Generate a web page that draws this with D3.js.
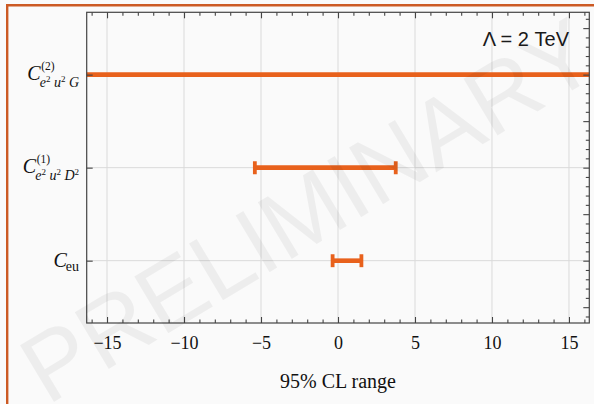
<!DOCTYPE html>
<html>
<head>
<meta charset="utf-8">
<script src="https://cdn.jsdelivr.net/npm/d3@7"></script>
<style>
  html, body { margin: 0; padding: 0; background: #fafafa; }
  svg { display: block; }
</style>
</head>
<body>
<svg id="chart"></svg>
<script>
// coefficients, bottom to top (position 1, 2, 3)
const categories = ["C_eu", "C_e2u2D2^(1)", "C_e2u2G^(2)"];
const lowerBounds = [-0.35, -5.4, -25];
const upperBounds = [1.52, 3.75, 25];
const xTickValues = [-15, -10, -5, 0, 5, 10, 15];

// how each label is typeset: superscript + subscript pieces (i = italic, s = small raised, n = upright)
const labelSup = ["", "(1)", "(2)"];
const labelSub = [
  [["eu", "n"]],
  [["e", "i"], ["2", "s"], ["u", "i"], ["2", "s"], ["D", "i"], ["2", "s"]],
  [["e", "i"], ["2", "s"], ["u", "i"], ["2", "s"], ["G", "i"]]
];

const width = 594;
const height = 404;
const plot = { left: 86.7, right: 589.3, top: 12.3, bottom: 323 };

const serif = "'Liberation Serif', 'Times New Roman', Times, serif";
const sans = "'Liberation Sans', Arial, Helvetica, sans-serif";
const orange = "#e8611c";
const frameColor = "#444";

const svg = d3.select("#chart")
  .attr("width", width)
  .attr("height", height);

svg.append("rect")
  .attr("width", width)
  .attr("height", height)
  .attr("fill", "#fafafa");

// outer orange frame (top + left edge)
svg.append("line")
  .attr("x1", 6).attr("x2", width)
  .attr("y1", 5.3).attr("y2", 5.3)
  .attr("stroke", "#cc5a24").attr("stroke-width", 2.5);
svg.append("line")
  .attr("x1", 7.2).attr("x2", 7.2)
  .attr("y1", 4).attr("y2", height)
  .attr("stroke", "#cc5a24").attr("stroke-width", 2.4);

const xScale = d3.scaleLinear()
  .domain([-16.32, 16.32])
  .range([plot.left, plot.right]);

const yScale = d3.scaleLinear()
  .domain([0.33, 3.67])
  .range([plot.bottom, plot.top]);

const catPos = categories.map((c, i) => i + 1);

// grid
const grid = svg.append("g").attr("stroke", "#dadada").attr("stroke-width", 1);
grid.selectAll(".gx")
  .data(xTickValues)
  .enter().append("line")
  .attr("x1", d => xScale(d)).attr("x2", d => xScale(d))
  .attr("y1", plot.top).attr("y2", plot.bottom);
grid.selectAll(".gy")
  .data(catPos)
  .enter().append("line")
  .attr("x1", plot.left).attr("x2", plot.right)
  .attr("y1", d => yScale(d)).attr("y2", d => yScale(d));

// bars
svg.append("clipPath").attr("id", "clip")
  .append("rect")
  .attr("x", plot.left).attr("y", plot.top)
  .attr("width", plot.right - plot.left)
  .attr("height", plot.bottom - plot.top);

const bars = svg.append("g").attr("clip-path", "url(#clip)");
bars.selectAll(".bar")
  .data(catPos)
  .enter().append("line")
  .attr("x1", (d, i) => xScale(lowerBounds[i]))
  .attr("x2", (d, i) => xScale(upperBounds[i]))
  .attr("y1", d => yScale(d)).attr("y2", d => yScale(d))
  .attr("stroke", orange).attr("stroke-width", 4.6);

const caps = catPos.flatMap((d, i) => [
  { y: d, x: lowerBounds[i] },
  { y: d, x: upperBounds[i] }
]);
bars.selectAll(".cap")
  .data(caps)
  .enter().append("line")
  .attr("x1", d => xScale(d.x)).attr("x2", d => xScale(d.x))
  .attr("y1", d => yScale(d.y) - 6.5).attr("y2", d => yScale(d.y) + 6.5)
  .attr("stroke", orange).attr("stroke-width", 3.8);

// axes (ticks point inward)
const fmt = d => (d < 0 ? "\u2212" + Math.abs(d) : String(d));
const xMinor = d3.range(-16, 17, 1).filter(d => d % 5 !== 0);
const yMajor = [0.5, 1, 1.5, 2, 2.5, 3, 3.5];
const yMinor = d3.range(4, 37, 1).map(d => d / 10).filter(d => Math.round(d * 10) % 5 !== 0);

function addAxis(axis, tx, ty) {
  const g = svg.append("g")
    .attr("transform", `translate(${tx},${ty})`)
    .call(axis);
  g.select(".domain").remove();
  g.selectAll(".tick line").attr("stroke", frameColor).attr("stroke-width", 1.1);
  return g;
}

const bottomAxis = addAxis(
  d3.axisBottom(xScale).tickValues(xTickValues).tickSize(-6).tickPadding(13).tickFormat(fmt),
  0, plot.bottom);
bottomAxis.attr("font-family", serif).attr("font-size", 18);
bottomAxis.selectAll("text")
  .style("font-family", serif)
  .style("font-size", "18px")
  .attr("fill", "#111");

addAxis(d3.axisBottom(xScale).tickValues(xMinor).tickSize(-3.5).tickFormat(""), 0, plot.bottom);
addAxis(d3.axisTop(xScale).tickValues(xTickValues).tickSize(-6).tickFormat(""), 0, plot.top);
addAxis(d3.axisTop(xScale).tickValues(xMinor).tickSize(-3.5).tickFormat(""), 0, plot.top);
addAxis(d3.axisLeft(yScale).tickValues(catPos).tickSize(-6).tickFormat(""), plot.left, 0);
addAxis(d3.axisRight(yScale).tickValues(yMajor).tickSize(-6).tickFormat(""), plot.right, 0);
addAxis(d3.axisRight(yScale).tickValues(yMinor).tickSize(-3.5).tickFormat(""), plot.right, 0);

svg.append("rect")
  .attr("x", plot.left).attr("y", plot.top)
  .attr("width", plot.right - plot.left)
  .attr("height", plot.bottom - plot.top)
  .attr("fill", "none")
  .attr("stroke", frameColor)
  .attr("stroke-width", 1.2);

// category labels
const labelRight = 79;
catPos.forEach((pos, i) => {
  const yy = yScale(pos);
  const plain = labelSup[i] === "";
  const sub = svg.append("text")
    .attr("x", labelRight)
    .attr("y", yy + (plain ? 10 : 12.5))
    .attr("text-anchor", "end")
    .style("font-family", serif)
    .style("font-size", "14px")
    .attr("fill", "#111");
  let prev = null;
  labelSub[i].forEach(([t, kind]) => {
    const ts = sub.append("tspan").text(t);
    if (kind === "s") {
      ts.style("font-size", "9px").attr("dy", -5.5);
    } else {
      if (prev === "s") ts.attr("dy", 5.5).attr("dx", 3.5);
      if (kind === "i") ts.style("font-style", "italic");
    }
    prev = kind;
  });
  const subStart = sub.node().getBBox().x;
  svg.append("text")
    .attr("x", subStart + 1)
    .attr("y", yy + (plain ? 6.5 : 5.5))
    .attr("text-anchor", "end")
    .style("font-family", serif)
    .style("font-style", "italic")
    .style("font-size", "20px")
    .attr("fill", "#111")
    .text("C");
  if (!plain) {
    svg.append("text")
      .attr("x", subStart + 1.5)
      .attr("y", yy - 4.5)
      .style("font-family", serif)
      .style("font-size", "11.5px")
      .attr("fill", "#111")
      .text(labelSup[i]);
  }
});

// axis title
svg.append("text")
  .attr("x", (plot.left + plot.right) / 2)
  .attr("y", 388)
  .attr("text-anchor", "middle")
  .style("font-family", serif)
  .style("font-size", "20px")
  .attr("fill", "#111")
  .text("95% CL range");

// scale annotation
svg.append("text")
  .attr("x", 569)
  .attr("y", 46)
  .attr("text-anchor", "end")
  .style("font-family", sans)
  .style("font-size", "20px")
  .attr("fill", "#1a1a1a")
  .text("\u039B = 2 TeV");

// watermark
svg.append("text")
  .attr("transform", "translate(308,210) rotate(-31)")
  .attr("text-anchor", "middle")
  .attr("dy", "0.35em")
  .style("font-family", sans)
  .style("font-size", "96px")
  .attr("fill", "#000")
  .attr("fill-opacity", 0.05)
  .text("PRELIMINARY");
</script>
</body>
</html>
